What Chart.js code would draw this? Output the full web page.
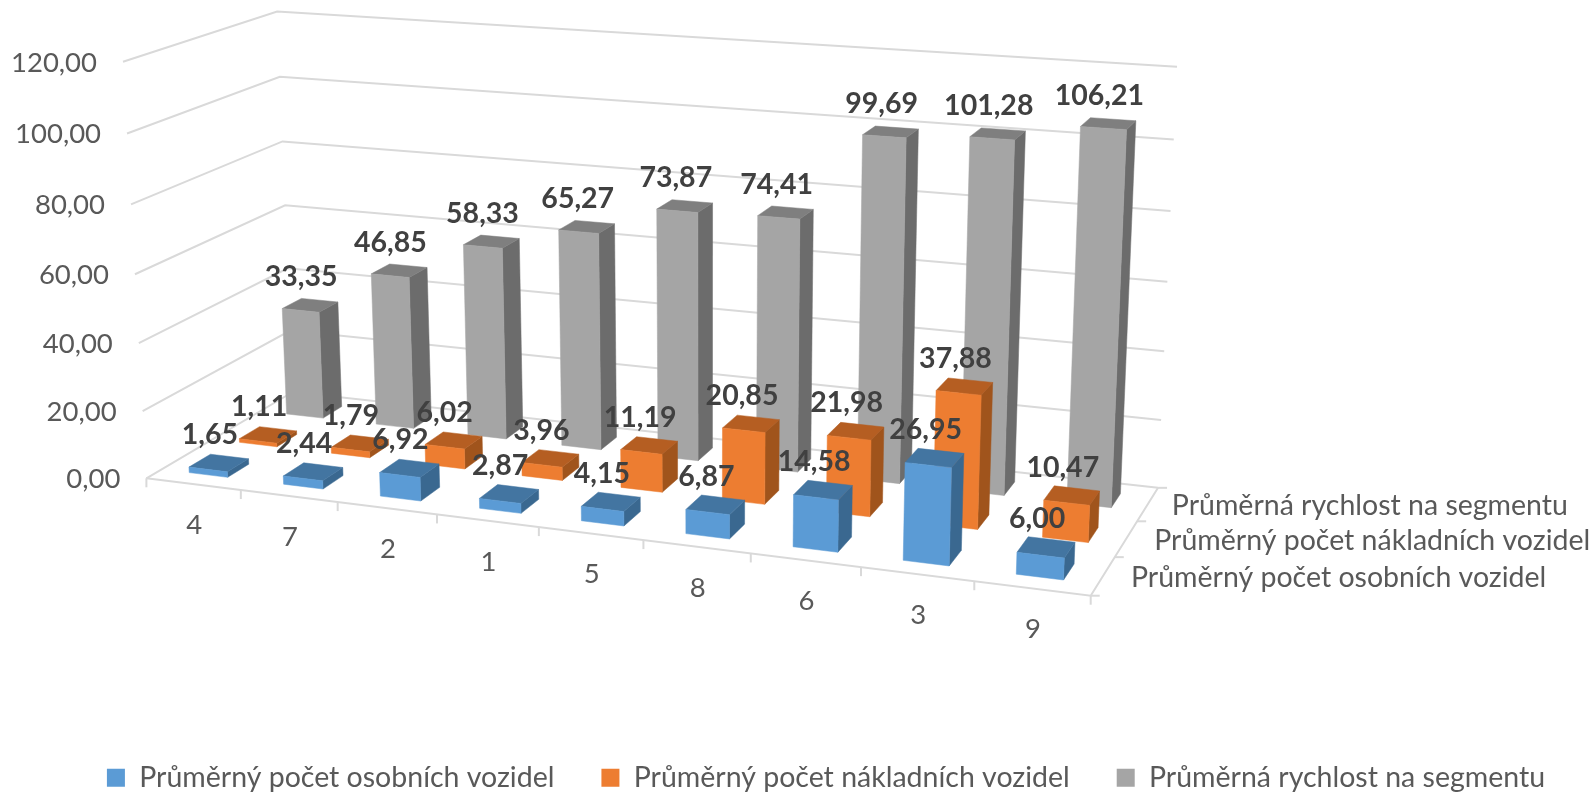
<!DOCTYPE html>
<html>
<head>
<meta charset="utf-8">
<title>Průměrné hodnoty na segmentech</title>
<script src="https://cdn.jsdelivr.net/npm/chart.js@4/dist/chart.umd.js"></script>
<style>
  html, body { margin: 0; padding: 0; background: #fff; }
  #wrap { width: 1594px; height: 792px; }
  /* the source picture is a soft, enlarged screenshot */
  #chart { filter: blur(0.6px); }
</style>
</head>
<body>
<div id="wrap"><canvas id="chart" width="1594" height="792"></canvas></div>
<script>
// chart values
const segments = ['4', '7', '2', '1', '5', '8', '6', '3', '9'];
const seriesNames = ['Průměrný počet osobních vozidel', 'Průměrný počet nákladních vozidel', 'Průměrná rychlost na segmentu'];
const osobni = [1.65, 2.44, 6.92, 2.87, 4.15, 6.87, 14.58, 26.95, 6.00];
const nakladni = [1.11, 1.79, 6.02, 3.96, 11.19, 20.85, 21.98, 37.88, 10.47];
const rychlost = [33.35, 46.85, 58.33, 65.27, 73.87, 74.41, 99.69, 101.28, 106.21];

const FONT = 'Lato, Carlito, sans-serif';
const frontColors = ['#5B9BD5', '#ED7D31', '#A5A5A5'];
const topColors = ['#4375A1', '#B55E22', '#7F7F7F'];
const sideColors = ['#3A6890', '#A0541C', '#6C6C6C'];
const BAR_WIDTH = 0.41;   // share of a category
const BAR_DEPTH = 0.42;   // share of a depth slot

// camera: page position of the box corners and how much each axis shrinks with distance
const O = [146.4, 478.3, 1];
const X = [1090.7, 595.7, 1];
const Z = [292.8, 392, 1];
const V = [123, 61.7, 1];
const weightX = 0.889, weightZ = 1.1, weightV = 0.96;

function toPage(u, w, h) {
    const out = [0, 1, 2].map(i => O[i] +
        u * (weightX * X[i] - O[i]) +
        w * (weightZ * Z[i] - O[i]) +
        h * (weightV * V[i] - O[i]));
    return { x: out[0] / out[2], y: out[1] / out[2] };
}

// category position, depth position and value through the chart's scales
function project(chart, xVal, depthVal, val) {
    const sx = chart.scales.x, sd = chart.scales.depth, sy = chart.scales.y;
    return toPage(
        (sx.getPixelForValue(xVal) - sx.left) / sx.width,
        (sd.getPixelForValue(depthVal) - sd.left) / sd.width,
        (sy.bottom - sy.getPixelForValue(val)) / sy.height
    );
}

function face(ctx, points, color) {
    ctx.fillStyle = color;
    ctx.strokeStyle = color;
    ctx.lineWidth = 0.5;
    ctx.beginPath();
    points.forEach((p, i) => i ? ctx.lineTo(p.x, p.y) : ctx.moveTo(p.x, p.y));
    ctx.closePath();
    ctx.fill();
    ctx.stroke();
}

class Bar3dController extends Chart.BarController {
    draw() {
        const chart = this.chart, ctx = chart.ctx, s = this.index;
        const dw = BAR_WIDTH / 2, dd = BAR_DEPTH / 2;
        this.getDataset().data.forEach((v, i) => {
            const p = (a, b, c) => project(chart, i + a, s + b, c);
            face(ctx, [p(dw, -dd, 0), p(dw, dd, 0), p(dw, dd, v), p(dw, -dd, v)], sideColors[s]);
            face(ctx, [p(-dw, -dd, v), p(dw, -dd, v), p(dw, dd, v), p(-dw, dd, v)], topColors[s]);
            face(ctx, [p(-dw, -dd, 0), p(dw, -dd, 0), p(dw, -dd, v), p(-dw, -dd, v)], frontColors[s]);
        });
    }
}
Bar3dController.id = 'bar3d';
Bar3dController.defaults = Chart.BarController.defaults;
Bar3dController.overrides = Chart.BarController.overrides;
Chart.register(Bar3dController);

function line(ctx, points) {
    ctx.beginPath();
    points.forEach((p, i) => i ? ctx.lineTo(p.x, p.y) : ctx.moveTo(p.x, p.y));
    ctx.stroke();
}

const formatValue = v => v.toFixed(2).replace('.', ',');

// walls, floor, ticks and axis labels
const boxPlugin = {
    id: 'box',
    beforeDatasetsDraw(chart) {
        const ctx = chart.ctx, n = segments.length, m = seriesNames.length;
        const left = -0.5, right = n - 0.5, front = -0.5, back = m - 0.5;
        ctx.save();
        ctx.strokeStyle = '#D9D9D9';
        ctx.lineWidth = 2;
        ctx.fillStyle = '#595959';
        ctx.font = '27.5px ' + FONT;
        ctx.textBaseline = 'middle';

        chart.scales.y.ticks.forEach(t => {
            const a = project(chart, left, front, t.value);
            line(ctx, [a, project(chart, left, back, t.value), project(chart, right, back, t.value)]);
            ctx.textAlign = 'right';
            ctx.fillText(formatValue(t.value), a.x - 26, a.y + 1);
        });

        // floor edges
        line(ctx, [project(chart, left, front, 0), project(chart, right, front, 0), project(chart, right, back, 0)]);

        // category ticks and labels
        for (let i = 0; i <= n; i++) {
            const p = project(chart, i - 0.5, front, 0);
            line(ctx, [p, { x: p.x, y: p.y + 9 }]);
        }
        ctx.textAlign = 'center';
        segments.forEach((label, i) => {
            const p = project(chart, i, front, 0);
            ctx.fillText(label, p.x + 1, p.y + 41);
        });

        // depth ticks and labels
        for (let s = 0; s <= m; s++) {
            const p = project(chart, right, s - 0.5, 0);
            line(ctx, [p, { x: p.x + 9, y: p.y }]);
        }
        ctx.font = '28.5px ' + FONT;
        ctx.textAlign = 'left';
        const labelShift = [28, 28, 24];
        seriesNames.forEach((label, s) => {
            const p = project(chart, right, s, 0);
            ctx.fillText(label, p.x + labelShift[s], p.y + 2);
        });
        ctx.restore();
    },
    afterDatasetsDraw(chart) {
        const ctx = chart.ctx;
        ctx.save();
        ctx.fillStyle = '#404040';
        ctx.font = 'bold 28.5px ' + FONT;
        ctx.textAlign = 'center';
        ctx.textBaseline = 'middle';
        chart.data.datasets.forEach((ds, s) => {
            ds.data.forEach((v, i) => {
                const p = project(chart, i, s, v);
                ctx.fillText(formatValue(v), p.x - 9, p.y - 28);
            });
        });
        ctx.restore();
    }
};

new Chart(document.getElementById('chart'), {
    type: 'bar3d',
    data: {
        labels: segments,
        datasets: [
            { label: seriesNames[0], data: osobni, backgroundColor: frontColors[0], clip: false },
            { label: seriesNames[1], data: nakladni, backgroundColor: frontColors[1], clip: false },
            { label: seriesNames[2], data: rychlost, backgroundColor: frontColors[2], clip: false }
        ]
    },
    options: {
        responsive: false,
        animation: false,
        events: [],
        layout: { padding: { left: 58, bottom: -10 } },
        scales: {
            x: { type: 'category', offset: true, display: false },
            depth: { type: 'category', axis: 'x', position: 'bottom', labels: seriesNames, offset: true, display: false },
            y: { type: 'linear', min: 0, max: 120, ticks: { stepSize: 20 }, display: false }
        },
        plugins: {
            tooltip: { enabled: false },
            legend: {
                position: 'bottom',
                labels: {
                    boxWidth: 18,
                    boxHeight: 18,
                    padding: 47,
                    color: '#595959',
                    font: { family: FONT, size: 28.5 }
                }
            }
        }
    },
    plugins: [boxPlugin]
});
</script>
</body>
</html>
